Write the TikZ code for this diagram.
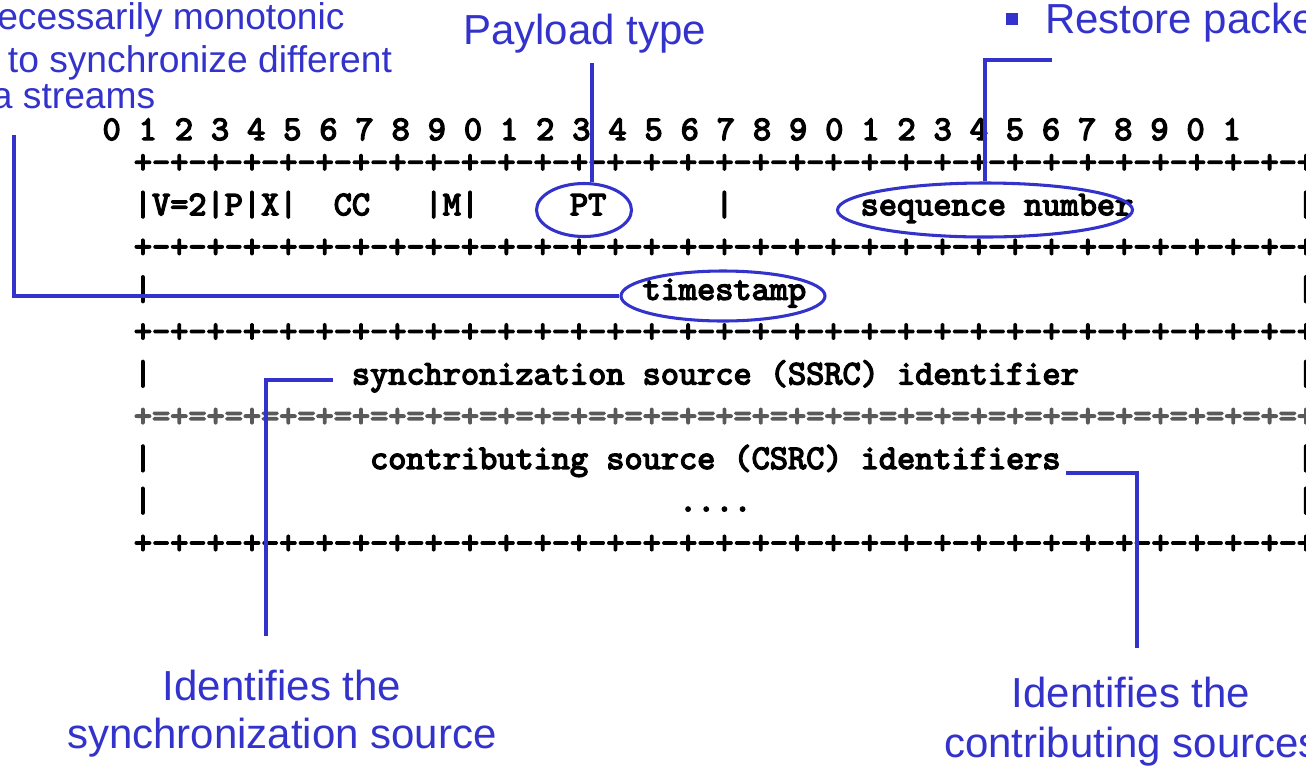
\documentclass[tikz,border=0pt]{standalone}
\usepackage{fontspec}
\setsansfont{Liberation Sans}
\newfontfamily\hdrfont{lmmono10-regular.otf}[FakeBold=4]
\usetikzlibrary{shapes.geometric}
\definecolor{noteblue}{RGB}{51,51,204}
\begin{document}
\begin{tikzpicture}[x=0.75pt,y=-0.75pt,
  declare function={col(\n)=79.1+18.17*\n;},
  note/.style={text=noteblue,inner sep=0pt,anchor=base,font=\sffamily\fontsize{31.5}{36}\selectfont},
  sidenote/.style={text=noteblue,inner sep=0pt,anchor=base west,font=\sffamily\fontsize{27.9}{32}\selectfont},
  bits/.style={inner sep=0pt,font=\hdrfont\fontsize{25.96}{30}\selectfont},
  field/.style={bits,anchor=mid west},
  dblrule/.style={field,text=black!65},
  ring/.style={ellipse,draw=noteblue,line width=2.3pt,inner sep=0pt},
  lead/.style={draw=noteblue,line width=2.4pt},
]
\useasboundingbox (0,0) rectangle (1306,765);
\clip (0,0) rectangle (1306,765);

% ---- side notes (blue) ----
\node[sidenote] (ts1) at (-3,29.3) {ecessarily monotonic};
\node[sidenote] (ts2) at (7.7,72.7) {to synchronize different};
\node[sidenote] (ts3) at (-8.3,108.5) {a streams};
\node[note,anchor=base west] (ptlabel) at (463,44) {Payload type};
\fill[noteblue] (1006,13.3) rectangle (1017.7,25);
\node[note,anchor=base west] (seqlabel) at (1045,33) {Restore packe};
\node[note] (ssrcnote1) at (282,700) {Identifies the};
\node[note] (ssrcnote2) at (282,748) {synchronization source};
\node[note] (csrcnote1) at (1131,707) {Identifies the};
\node[note] (csrcnote2) at (1132,757) {contributing sources};

% ---- bit numbers ----
\foreach \i in {0,...,31} {
  \pgfmathtruncatemacro\d{mod(\i,10)}
  \node[bits,anchor=base] (bit\i) at ({111.7+36.13*\i},140) {\d};
}

% ---- header rules ----
\node[field] (rule1) at ({col(3)},170) {+-+-+-+-+-+-+-+-+-+-+-+-+-+-+-+-+-+-+-+-+-+-+-+-+-+-+-+-+-+-+-+-+};
\node[field] (rule2) at ({col(3)},254.6) {+-+-+-+-+-+-+-+-+-+-+-+-+-+-+-+-+-+-+-+-+-+-+-+-+-+-+-+-+-+-+-+-+};
\node[field] (rule3) at ({col(3)},339.2) {+-+-+-+-+-+-+-+-+-+-+-+-+-+-+-+-+-+-+-+-+-+-+-+-+-+-+-+-+-+-+-+-+};
\node[dblrule] (rule4) at ({col(3)},423.8) {+=+=+=+=+=+=+=+=+=+=+=+=+=+=+=+=+=+=+=+=+=+=+=+=+=+=+=+=+=+=+=+=+};
\node[field] (rule5) at ({col(3)},550.7) {+-+-+-+-+-+-+-+-+-+-+-+-+-+-+-+-+-+-+-+-+-+-+-+-+-+-+-+-+-+-+-+-+};

% ---- header fields ----
\node[field] (vpx)  at ({col(3)},212.3)  {|V=2|P|X|};
\node[field] (cc)   at ({col(14)},212.3) {CC};
\node[field] (m)    at ({col(19)},212.3) {|M|};
\node[field] (pt)   at ({col(27)},212.3) {PT};
\node[field] (bar1) at ({col(35)},212.3) {|};
\node[field] (seq)  at ({col(43)},212.3) {sequence number};
\node[field] (end1) at ({col(67)},212.3) {|};

\node[field] (bar2) at ({col(3)},296.9)  {|};
\node[field] (ts)   at ({col(31)},296.9) {timestamp};
\node[field] (end2) at ({col(67)},296.9) {|};

\node[field] (bar3) at ({col(3)},381.5)  {|};
\node[field] (ssrc) at ({col(15)},381.5) {synchronization source (SSRC) identifier};
\node[field] (end3) at ({col(67)},381.5) {|};

\node[field] (bar4) at ({col(3)},466.1)  {|};
\node[field] (csrc) at ({col(16)},466.1) {contributing source (CSRC) identifiers};
\node[field] (end4) at ({col(67)},466.1) {|};

\node[field] (bar5) at ({col(3)},508.4)  {|};
\node[field] (dots) at ({col(33)},508.4) {....};
\node[field] (end5) at ({col(67)},508.4) {|};

% ---- highlight rings ----
\node[ring,minimum width=71.25pt,minimum height=39.75pt] (ptmark) at (584,210) {};
\node[ring,minimum width=153pt,minimum height=37.5pt] (tsmark) at (723,296) {};
\node[ring,minimum width=221.25pt,minimum height=40.5pt] (seqmark) at (985,210) {};

% ---- leader lines ----
\coordinate (tsfoot) at (14,135);
\coordinate (ptfoot) at (592,63);
\coordinate (seqfoot) at (1052,60);
\coordinate (ssrcfoot) at (333,380);
\coordinate (ssrcend) at (266,636);
\coordinate (csrcfoot) at (1066,473);
\coordinate (csrcend) at (1137,648);

\draw[lead] (tsfoot) |- (tsmark.west);
\draw[lead] (ptfoot) -- (ptfoot |- ptmark.north);
\draw[lead] (seqfoot) -| (seqmark.north);
\draw[lead] (ssrcfoot) -| (ssrcend);
\draw[lead] (csrcfoot) -| (csrcend);
\end{tikzpicture}
\end{document}
